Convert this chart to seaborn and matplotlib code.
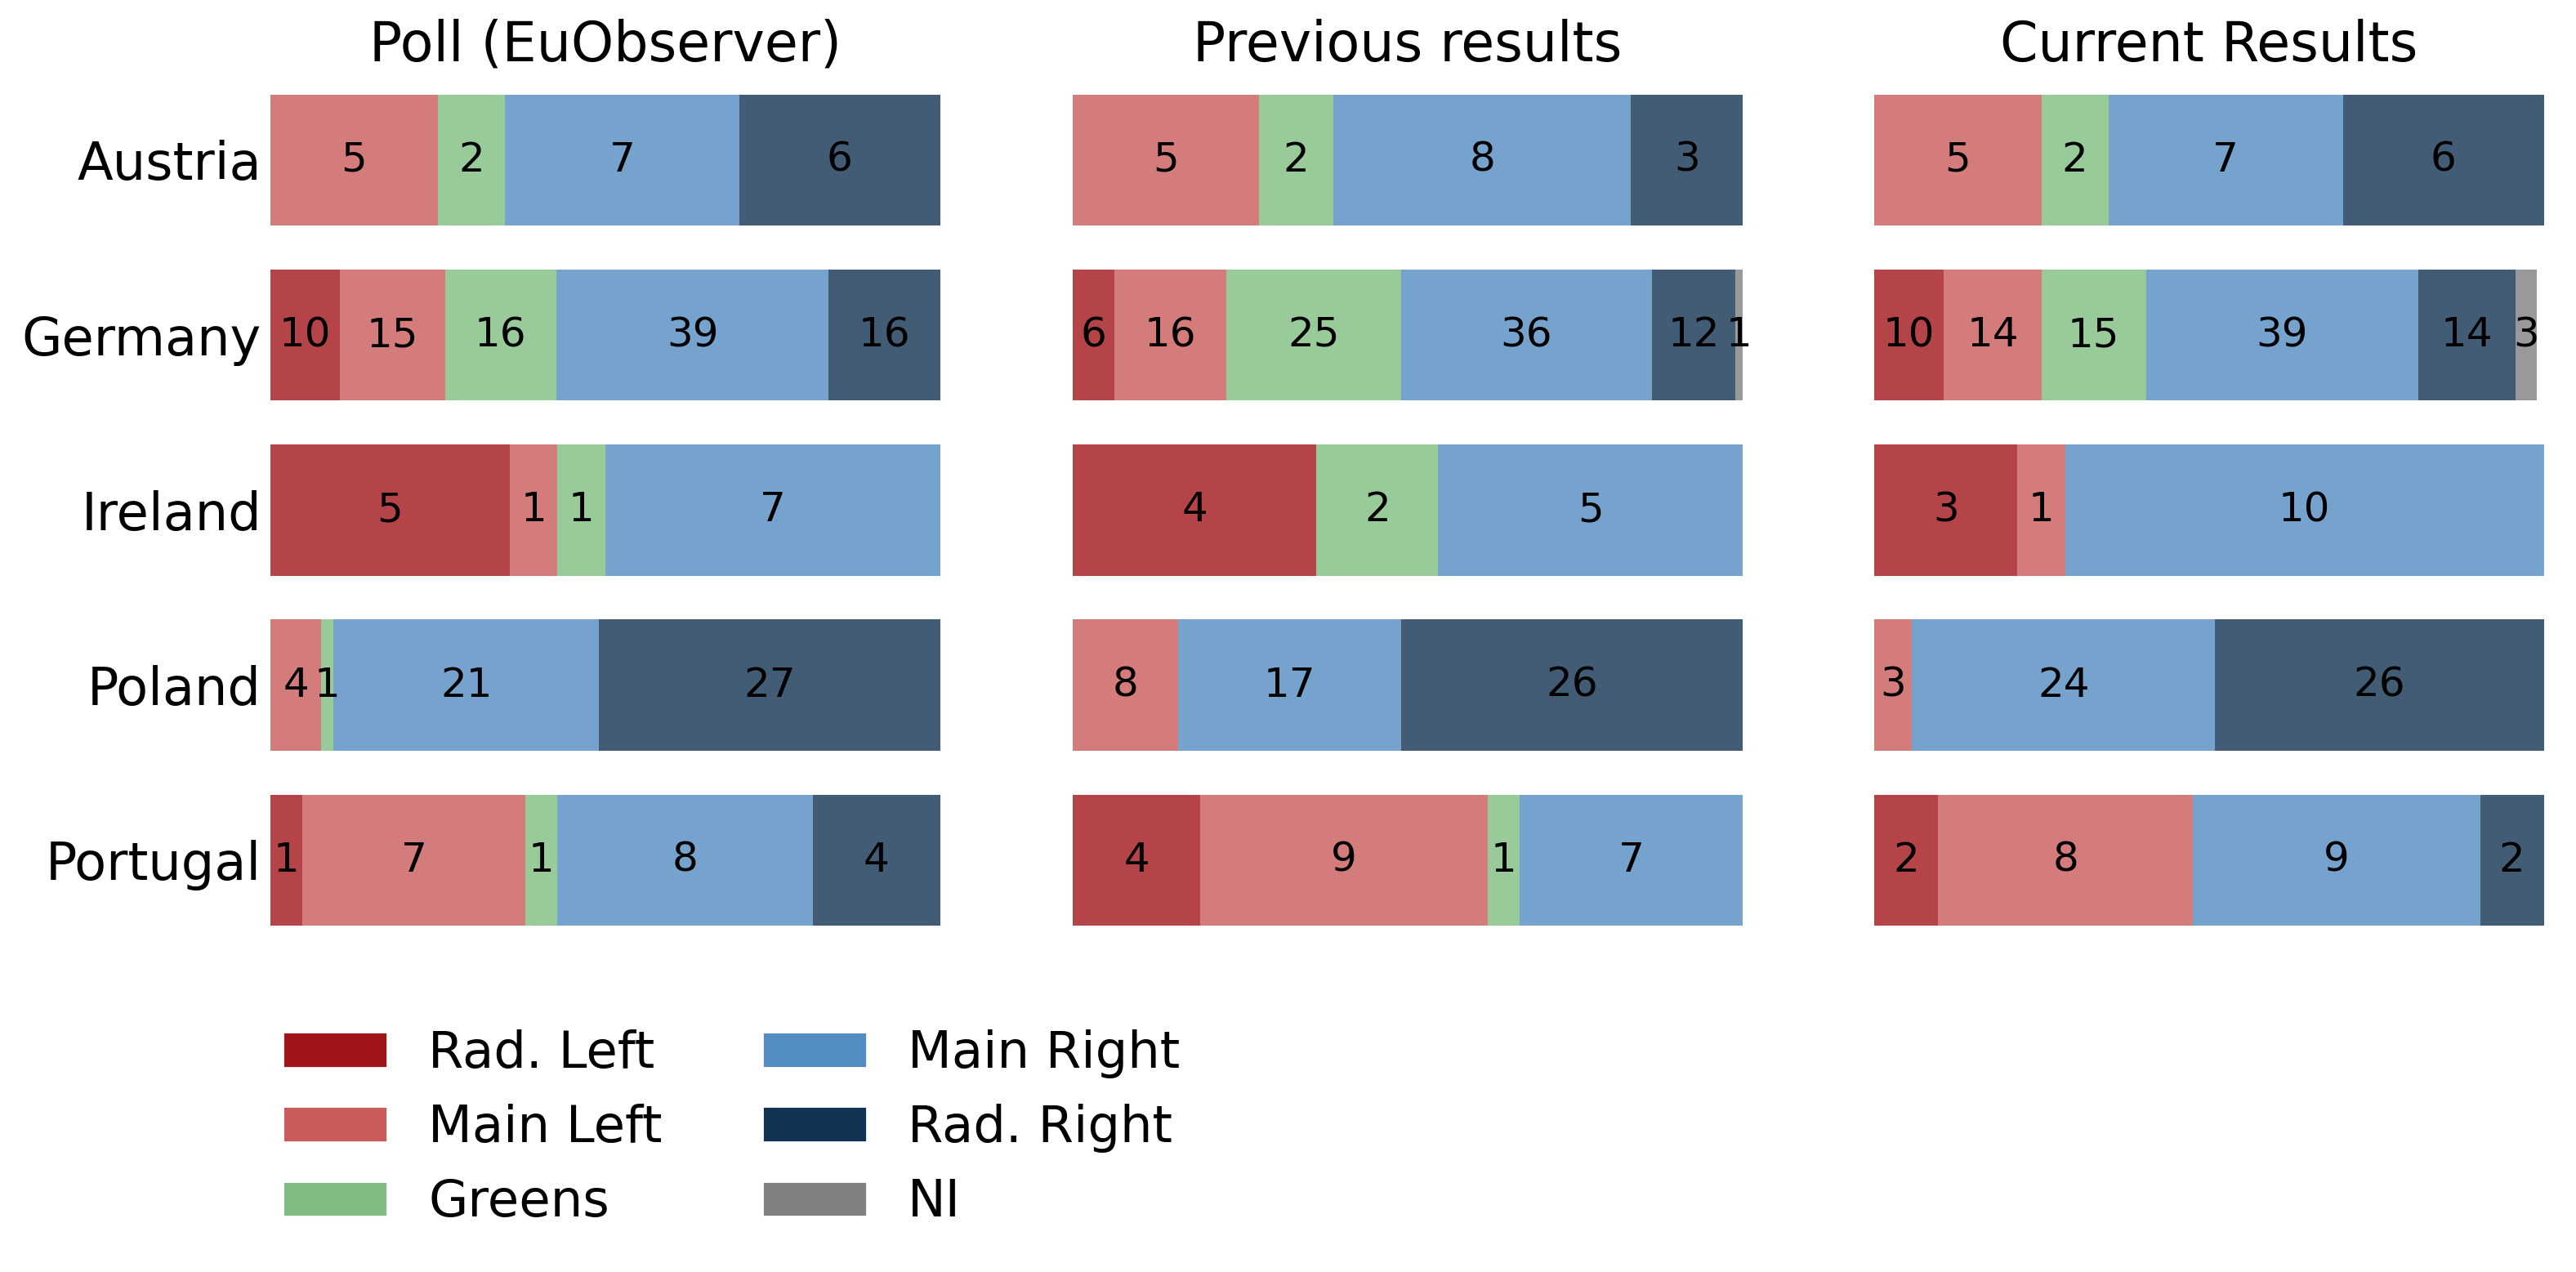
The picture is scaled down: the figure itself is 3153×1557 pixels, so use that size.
import matplotlib
matplotlib.use('Agg')
import matplotlib.pyplot as plt
import matplotlib.colors as mcolors
from matplotlib.patches import Patch
import seaborn as sns
import pandas as pd
import numpy as np

# Seats per country and party group
countries = ['Austria', 'Germany', 'Ireland', 'Poland', 'Portugal']
parties = ['Rad. Left', 'Main Left', 'Greens', 'Main Right', 'Rad. Right', 'NI']
colors = ['#a11519', '#c95b5b', '#80bd80', '#538cc0', '#133354', '#808080']

poll_rad_left = [0, 10, 5, 0, 1]
poll_main_left = [5, 15, 1, 4, 7]
poll_greens = [2, 16, 1, 1, 1]
poll_main_right = [7, 39, 7, 21, 8]
poll_rad_right = [6, 16, 0, 27, 4]
poll_ni = [0, 0, 0, 0, 0]
poll_seats = [20, 96, 14, 53, 21]

prev_rad_left = [0, 6, 4, 0, 4]
prev_main_left = [5, 16, 0, 8, 9]
prev_greens = [2, 25, 2, 0, 1]
prev_main_right = [8, 36, 5, 17, 7]
prev_rad_right = [3, 12, 0, 26, 0]
prev_ni = [0, 1, 0, 0, 0]
prev_seats = [18, 96, 11, 51, 21]

curr_rad_left = [0, 10, 3, 0, 2]
curr_main_left = [5, 14, 1, 3, 8]
curr_greens = [2, 15, 0, 0, 0]
curr_main_right = [7, 39, 10, 24, 9]
curr_rad_right = [6, 14, 0, 26, 2]
curr_ni = [0, 3, 0, 0, 0]
curr_seats = [20, 96, 14, 53, 21]

panels = [
    ('Poll (EuObserver)', [poll_rad_left, poll_main_left, poll_greens,
                           poll_main_right, poll_rad_right, poll_ni], poll_seats),
    ('Previous results', [prev_rad_left, prev_main_left, prev_greens,
                          prev_main_right, prev_rad_right, prev_ni], prev_seats),
    ('Current Results', [curr_rad_left, curr_main_left, curr_greens,
                         curr_main_right, curr_rad_right, curr_ni], curr_seats),
]

sns.set_style('white')
plt.rcParams['font.family'] = ['DejaVu Sans']
plt.rcParams['text.color'] = 'black'
plt.rcParams['axes.labelcolor'] = 'black'
plt.rcParams['ytick.color'] = 'black'
plt.rcParams['xtick.color'] = 'black'

# bars are drawn at alpha 0.8 on white -> precompute the opaque colour
def faded(c, a=0.8):
    r, g, b = mcolors.to_rgb(c)
    return (a * r + 1 - a, a * g + 1 - a, a * b + 1 - a)

fig = plt.figure(figsize=(15.765, 7.785), dpi=200)
lefts = [0.105, 0.4165, 0.7275]
width = 0.26
axes = [fig.add_axes([l, 0.255, width, 0.688]) for l in lefts]

for ax, (title, values, seats) in zip(axes, panels):
    df = pd.DataFrame(np.array(values).T, index=countries, columns=parties)
    share = df.div(seats, axis=0)
    cum = share.cumsum(axis=1)
    # draw cumulative bars from the last group to the first so they stack
    for i in range(len(parties) - 1, -1, -1):
        sns.barplot(x=cum[parties[i]].values, y=countries, orient='h',
                    color=faded(colors[i]), width=0.75, ax=ax,
                    saturation=1, linewidth=0)
    for j, c in enumerate(countries):
        start = 0
        for i, p in enumerate(parties):
            v = df.loc[c, p]
            w = share.loc[c, p]
            if v > 0:
                ax.text(start + w / 2, j, str(v), ha='center', va='center',
                        fontsize=18, color='black')
            start += w
    ax.set_xlim(0, 1)
    ax.set_ylim(4.5, -0.5)
    ax.set_title(title, fontsize=24, pad=1, color='black')
    ax.set_xticks([])
    ax.set_xlabel('')
    ax.tick_params(axis='y', length=0, labelsize=23, pad=4)
    if ax is not axes[0]:
        ax.set_yticklabels([])
    sns.despine(ax=ax, left=True, bottom=True)

handles = [Patch(facecolor=c, label=p) for p, c in zip(parties, colors)]
fig.legend(handles=handles, ncol=2, loc='upper left',
           bbox_to_anchor=(0.092, 0.227), frameon=False, fontsize=22.5,
           handlelength=2.05, handleheight=0.7, handletextpad=0.8,
           columnspacing=1.95, labelspacing=0.5)

fig.savefig('out.png', dpi=200)
